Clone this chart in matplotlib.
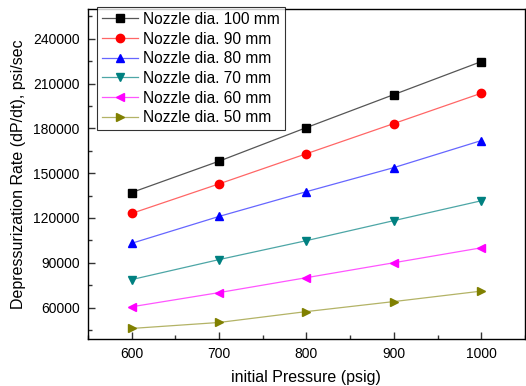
import matplotlib
matplotlib.use("Agg")
import matplotlib.pyplot as plt
from matplotlib.ticker import MultipleLocator

plt.rcParams['font.family'] = ['Liberation Sans', 'DejaVu Sans']

pressure = [600, 700, 800, 900, 1000]
d100 = [137000, 158000, 180500, 202600, 224700]
d90 = [123000, 142800, 163000, 183200, 203500]
d80 = [103000, 121000, 137600, 153700, 171800]
d70 = [78700, 92100, 104800, 118200, 131500]
d60 = [60500, 70000, 80000, 90000, 100000]
d50 = [46000, 50000, 57300, 64000, 71000]

labels = ["Nozzle dia. 100 mm", "Nozzle dia. 90 mm", "Nozzle dia. 80 mm",
          "Nozzle dia. 70 mm", "Nozzle dia. 60 mm", "Nozzle dia. 50 mm"]
series = [d100, d90, d80, d70, d60, d50]
marker_colors = ["#000000", "#ff0000", "#0000ff", "#008080", "#ff00ff", "#808000"]
line_colors = ["#555555", "#ff6666", "#6666ff", "#4da6a6", "#ff55ff", "#b3b366"]
markers = ["s", "o", "^", "v", "<", ">"]

fig = plt.figure(figsize=(5.26, 3.86), dpi=100)
ax = fig.add_axes([0.167, 0.122, 0.831, 0.855])

for ys, lab, mc, lc, m in zip(series, labels, marker_colors, line_colors, markers):
    ax.plot(pressure, ys, color=lc, lw=0.9, marker=m, markersize=6.3 if m != "o" else 6,
            markerfacecolor=mc, markeredgecolor=mc, label=lab)

ax.set_xlim(550, 1050)
ax.set_ylim(39000, 260000)
ax.xaxis.set_major_locator(MultipleLocator(100))
ax.xaxis.set_minor_locator(MultipleLocator(50))
ax.yaxis.set_major_locator(MultipleLocator(30000))
ax.yaxis.set_minor_locator(MultipleLocator(15000))
ax.tick_params(which='both', direction='in', top=False, right=False, labelsize=10, colors='#333333', labelcolor='black')
ax.tick_params(which='major', length=5, width=1, pad=6)
ax.tick_params(which='minor', length=3, width=1)
for s in ax.spines.values():
    s.set_linewidth(1.0)

ax.set_xlabel("initial Pressure (psig)", fontsize=11.5, labelpad=6)
ax.set_ylabel("Depressurization Rate (dP/dt), psi/sec", fontsize=11.5, labelpad=5)

leg = ax.legend(loc="upper left", bbox_to_anchor=(0.022, 1.005), fontsize=11.2, frameon=True,
                fancybox=False, edgecolor='black', borderpad=0.3, labelspacing=0.3,
                handlelength=2.3, handletextpad=0.35, borderaxespad=0.0)
leg.get_frame().set_linewidth(0.8)

fig.savefig("out.png", dpi=100)
